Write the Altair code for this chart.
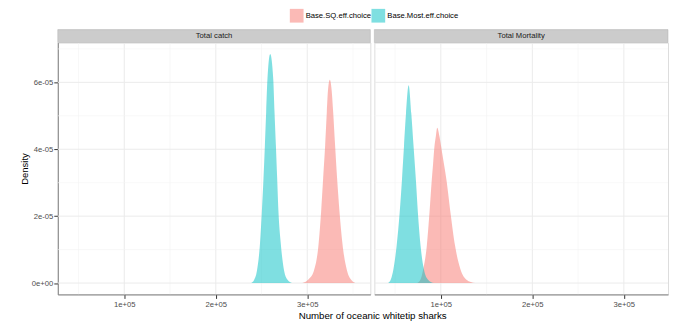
import altair as alt
import pandas as pd

scenarios = ["Base.SQ.eff.choice", "Base.Most.eff.choice"]
scenario_colors = ["#F8766D", "#00BFC4"]
panels = ["Total catch", "Total Mortality"]

# Total catch, Base.SQ.eff.choice
catch_sq_x = [294600, 301000, 307300, 312400, 315200, 317400, 319600, 321400, 322800, 324700,
              326500, 328300, 330400, 332600, 335200, 338500, 343500, 348000, 352600]
catch_sq_y = [0, 1.0e-6, 3.7e-6, 1.17e-5, 2.15e-5, 3.14e-5, 4.13e-5, 5.12e-5, 5.81e-5, 6.08e-5,
              5.81e-5, 5.12e-5, 4.13e-5, 3.14e-5, 2.15e-5, 1.17e-5, 3.7e-6, 1.0e-6, 0]

# Total catch, Base.Most.eff.choice
catch_most_x = [238500, 242000, 245000, 248300, 250400, 252200, 253700, 255100, 256500, 259500,
                262800, 264200, 265700, 267100, 268500, 271100, 274700, 278500, 283700]
catch_most_y = [0, 1.0e-6, 3.7e-6, 1.17e-5, 2.15e-5, 3.14e-5, 4.13e-5, 5.12e-5, 6.11e-5, 6.85e-5,
                6.11e-5, 5.12e-5, 4.13e-5, 3.14e-5, 2.15e-5, 1.17e-5, 3.7e-6, 1.0e-6, 0]

# Total Mortality, Base.SQ.eff.choice
mort_sq_x = [74200, 78000, 80800, 84700, 87600, 90100, 91600, 93000, 94500, 96000,
             98500, 100300, 103200, 106100, 110500, 115500, 121300, 128000, 137600]
mort_sq_y = [0, 1.2e-6, 4.2e-6, 1.12e-5, 2.11e-5, 3.09e-5, 3.59e-5, 4.08e-5, 4.38e-5, 4.64e-5,
             4.38e-5, 4.08e-5, 3.59e-5, 3.09e-5, 2.11e-5, 1.12e-5, 4.2e-6, 1.0e-6, 0]

# Total Mortality, Base.Most.eff.choice
mort_most_x = [42300, 45500, 48200, 51700, 55000, 57500, 59700, 61900, 64800,
               67700, 70200, 72700, 74900, 77800, 81400, 86000, 92300]
mort_most_y = [0, 1.2e-6, 4.2e-6, 1.12e-5, 2.11e-5, 3.09e-5, 4.08e-5, 5.07e-5, 5.91e-5,
               5.07e-5, 4.08e-5, 3.09e-5, 2.11e-5, 1.12e-5, 4.2e-6, 1.0e-6, 0]

x_major = [100000, 200000, 300000]
x_minor = [50000, 150000, 250000, 350000]
y_major = [0, 2e-5, 4e-5, 6e-5]
y_minor = [1e-5, 3e-5, 5e-5, 7e-5]

rows = []
for panel, scen, xs_, ys_ in [
    ("Total catch", scenarios[0], catch_sq_x, catch_sq_y),
    ("Total catch", scenarios[1], catch_most_x, catch_most_y),
    ("Total Mortality", scenarios[0], mort_sq_x, mort_sq_y),
    ("Total Mortality", scenarios[1], mort_most_x, mort_most_y),
]:
    for a, b in zip(xs_, ys_):
        rows.append({"panel": panel, "scenario": scen, "x": a, "density": b})
df = pd.DataFrame(rows)

X_MIN = 27300
Y_DOM = [-3.4e-6, 7.19e-5]
H = 253
W1 = 314
W2 = 295
PX = 91.9 / 1e5

FONT = "Liberation Sans"
SMALL = 7.7


def make_panel(name, width, show_y):
    xmax = X_MIN + width / PX
    xs = alt.Scale(domain=[X_MIN, xmax], nice=False, zero=False)
    ys = alt.Scale(domain=Y_DOM, nice=False, zero=False)
    d = df[df.panel == name]

    xaxis = alt.Axis(
        values=x_major, title=None, grid=False,
        labelExpr="replace(format(datum.value, '.0e'), 'e+', 'e+0')",
        labelFontSize=SMALL, labelColor="#4D4D4D", tickColor="#333333",
        tickSize=4, labelPadding=2, domainColor="#7F7F7F", labelFont=FONT,
    )
    if show_y:
        yaxis = alt.Axis(
            values=y_major, title="Density", grid=False,
            labelExpr="datum.value == 0 ? '0e+00' : replace(format(datum.value, '.0e'), 'e-', 'e-0')",
            labelFontSize=SMALL, labelColor="#4D4D4D", tickColor="#333333",
            tickSize=4, labelPadding=1, domainColor="#7F7F7F",
            titleFontSize=9.5, titleFontWeight="normal", titleColor="#000000",
            titlePadding=2, labelFont=FONT, titleFont=FONT,
        )
    else:
        yaxis = None

    def vrules(vals, color, sw):
        return alt.Chart(pd.DataFrame({"v": vals})).mark_rule(
            color=color, strokeWidth=sw, clip=True
        ).encode(x=alt.X("v:Q", scale=xs, axis=xaxis))

    def hrules(vals, color, sw):
        return alt.Chart(pd.DataFrame({"v": vals})).mark_rule(
            color=color, strokeWidth=sw, clip=True
        ).encode(y=alt.Y("v:Q", scale=ys, axis=yaxis))

    color = alt.Color(
        "scenario:N",
        scale=alt.Scale(domain=scenarios, range=scenario_colors),
        legend=alt.Legend(
            orient="none", legendX=233, legendY=-34, direction="horizontal",
            title=None, symbolType="square", symbolSize=190, symbolOpacity=0.5,
            symbolStrokeWidth=0, labelFontSize=SMALL, labelFont=FONT, labelColor="#000000",
            columnPadding=0, labelOffset=2, padding=0,
        ),
    )
    areas = [
        alt.Chart(d[d.scenario == s]).mark_area(opacity=0.5, interpolate="monotone").encode(
            x=alt.X("x:Q", scale=xs, axis=xaxis),
            y=alt.Y("density:Q", scale=ys, axis=yaxis),
            color=color,
        )
        for s in scenarios
    ]
    strip_df = pd.DataFrame({"label": [name]})
    strip = alt.Chart(strip_df).mark_rect(fill="#CCCCCC", stroke="#B3B3B3", strokeWidth=0.5).encode(
        x=alt.value(0), x2=alt.value(width), y=alt.value(-13), y2=alt.value(0)
    )
    strip_text = alt.Chart(strip_df).mark_text(
        fontSize=SMALL, color="#1A1A1A", baseline="middle", font=FONT
    ).encode(x=alt.value(width / 2), y=alt.value(-6.5), text="label:N")

    return alt.layer(
        vrules(x_minor, "#F4F4F4", 0.6), vrules(x_major, "#EBEBEB", 1),
        hrules(y_minor, "#F4F4F4", 0.6), hrules(y_major, "#EBEBEB", 1),
        *areas, strip, strip_text,
    ).properties(width=width, height=H)


p1 = make_panel(panels[0], W1, True)
p2 = make_panel(panels[1], W2, False)

chart = alt.hconcat(p1, p2, spacing=2).resolve_scale(
    x="independent", y="independent", color="shared"
).properties(
    title=alt.TitleParams(
        "Number of oceanic whitetip sharks", orient="bottom", anchor="middle",
        fontSize=9.75, fontWeight="normal", color="#000000", font=FONT, offset=3, dx=29,
    ),
    padding={"left": 10, "top": 0, "right": 0, "bottom": 0},
).configure_view(stroke="#B3B3B3", strokeWidth=1).configure(background="white")

chart.save("out.html", embed_options={"renderer": "svg", "actions": False})
